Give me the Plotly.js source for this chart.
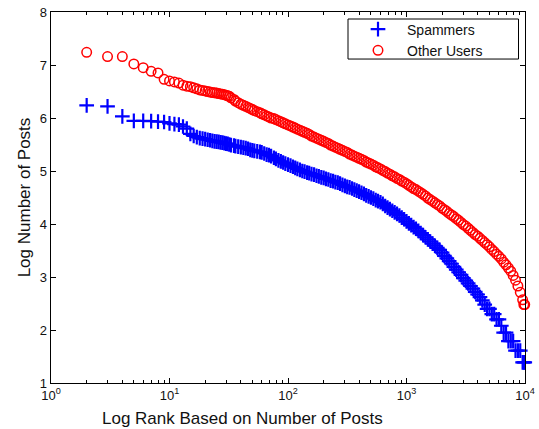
<!DOCTYPE html>
<html>
<head>
<meta charset="utf-8">
<script src="https://cdn.plot.ly/plotly-3.0.1.min.js"></script>
<style>
  html, body { margin: 0; padding: 0; background: #fff; }
  #chart { width: 539px; height: 429px; }
</style>
</head>
<body>
<div id="chart"></div>
<script>
// Rank of each user (by number of posts), shared by both groups
const ranks = [
  2, 3, 4, 5, 6, 7, 8, 9, 10, 11, 12, 13, 14, 15, 16, 17, 18, 19, 20, 21,
  22, 23, 24, 25, 26, 27, 28, 29, 30, 31,
  32, 33, 35, 36, 38, 40, 42, 44, 46, 48, 50, 52, 55, 58, 60, 63, 66, 69, 72, 76,
  79, 83, 87, 91, 95,
  100, 105, 110, 115, 120, 126, 132, 138, 145, 151,
  158, 166, 174, 182, 191, 200, 209, 219, 229, 240,
  251, 263, 275, 288, 302, 316, 331, 347, 363, 380,
  398, 417, 437, 457, 479, 501, 525, 550, 575, 603,
  631, 661, 692, 724, 759, 794, 832, 871, 912, 955,
  1000, 1047, 1096, 1148, 1202, 1259, 1318, 1380, 1445, 1514,
  1585, 1660, 1738, 1820, 1905, 1995, 2089, 2188, 2291, 2399,
  2512, 2630, 2754, 2884, 3020, 3162, 3311, 3467, 3631, 3802,
  3981, 4169, 4365, 4571, 4786, 5012, 5248, 5495, 5754, 6026,
  6310, 6607, 6918, 7244, 7586, 7943, 8318, 8710, 9120, 9550,
  9772, 9950
];

// Log number of posts, spammers
const spammers = [
  6.24, 6.22, 6.03, 5.945, 5.945, 5.94, 5.93, 5.925, 5.90,
  5.885, 5.875, 5.84, 5.80, 5.70, 5.66, 5.64, 5.62, 5.61, 5.60,
  5.59, 5.58, 5.57, 5.56, 5.555, 5.55, 5.54, 5.535, 5.525, 5.515, 5.51,
  5.50, 5.49, 5.48, 5.47, 5.46, 5.45, 5.44, 5.43, 5.42, 5.40,
  5.39, 5.38, 5.37, 5.36, 5.35, 5.33, 5.31, 5.30, 5.28, 5.25,
  5.23, 5.20, 5.18, 5.16, 5.14,
  5.12, 5.10, 5.08, 5.06, 5.04, 5.02, 5.00, 4.99, 4.97, 4.96,
  4.94, 4.93, 4.91, 4.90, 4.88, 4.87, 4.85, 4.84, 4.82, 4.81,
  4.79, 4.78, 4.76, 4.74, 4.72, 4.70, 4.69, 4.67, 4.65, 4.63,
  4.61, 4.59, 4.57, 4.54, 4.52, 4.50, 4.48, 4.45, 4.43, 4.41,
  4.38, 4.34, 4.31, 4.28, 4.25, 4.22, 4.19, 4.16, 4.12, 4.09,
  4.05, 4.01, 3.98, 3.94, 3.91, 3.87, 3.83, 3.79, 3.75, 3.71,
  3.67, 3.63, 3.59, 3.55, 3.51, 3.46, 3.40, 3.35, 3.30, 3.25,
  3.19, 3.14, 3.09, 3.04, 2.98, 2.93, 2.88, 2.83, 2.78, 2.72,
  2.67, 2.62, 2.56, 2.48, 2.40, 2.40, 2.30, 2.30, 2.20, 2.20,
  2.08, 1.95, 1.95, 1.79, 1.79, 1.79, 1.61, 1.61, 1.61, 1.39,
  1.39, 1.39
];

// Log number of posts, other users
const otherUsers = [
  7.24, 7.16, 7.16, 7.02, 6.95, 6.88, 6.85, 6.73, 6.70,
  6.68, 6.66, 6.62, 6.60, 6.59, 6.57, 6.55, 6.53, 6.52, 6.51,
  6.50, 6.49, 6.48, 6.475, 6.47, 6.46, 6.455, 6.45, 6.44, 6.43, 6.42,
  6.41, 6.38, 6.35, 6.32, 6.29, 6.26, 6.24, 6.22, 6.20, 6.18,
  6.16, 6.14, 6.12, 6.10, 6.08, 6.06, 6.04, 6.02, 6.00, 5.99,
  5.97, 5.95, 5.93, 5.91, 5.89,
  5.87, 5.85, 5.83, 5.81, 5.79, 5.77, 5.75, 5.73, 5.71, 5.69,
  5.66, 5.64, 5.62, 5.60, 5.58, 5.56, 5.54, 5.52, 5.49, 5.47,
  5.45, 5.43, 5.41, 5.39, 5.37, 5.35, 5.32, 5.30, 5.28, 5.26,
  5.24, 5.22, 5.20, 5.17, 5.15, 5.13, 5.11, 5.08, 5.06, 5.04,
  5.01, 4.99, 4.96, 4.94, 4.91, 4.89, 4.86, 4.84, 4.81, 4.79,
  4.76, 4.73, 4.70, 4.67, 4.65, 4.62, 4.59, 4.56, 4.53, 4.49,
  4.46, 4.43, 4.40, 4.37, 4.34, 4.30, 4.27, 4.24, 4.20, 4.17,
  4.14, 4.10, 4.07, 4.03, 3.99, 3.96, 3.92, 3.88, 3.84, 3.80,
  3.77, 3.73, 3.69, 3.65, 3.61, 3.57, 3.52, 3.48, 3.43, 3.39,
  3.34, 3.28, 3.23, 3.17, 3.11, 3.03, 2.94, 2.83, 2.71, 2.57,
  2.48, 2.48
];

// Axis ticks
const xMajorTicks = [1, 10, 100, 1000, 10000];
const xMajorLabels = ['10<sup>0</sup>', '10<sup>1</sup>', '10<sup>2</sup>', '10<sup>3</sup>', '10<sup>4</sup>'];
const xMinorTicks = [
  2, 3, 4, 5, 6, 7, 8, 9,
  20, 30, 40, 50, 60, 70, 80, 90,
  200, 300, 400, 500, 600, 700, 800, 900,
  2000, 3000, 4000, 5000, 6000, 7000, 8000, 9000
];
const yTicks = [1, 2, 3, 4, 5, 6, 7, 8];

const FONT = 'Liberation Sans, Arial, Helvetica, sans-serif';
const INK = '#111';

const traces = [
  {
    x: ranks, y: spammers, name: 'Spammers',
    type: 'scatter', mode: 'markers', cliponaxis: false,
    marker: { symbol: 'cross-thin-open', size: 10.5, color: '#0000ff',
              line: { color: '#0000ff', width: 2.2 } }
  },
  {
    x: ranks, y: otherUsers, name: 'Other Users',
    type: 'scatter', mode: 'markers', cliponaxis: false,
    marker: { symbol: 'circle-open', size: 9.5, color: '#ff0000',
              line: { color: '#ff0000', width: 1.5 } }
  }
];

const axisCommon = {
  showline: true, linecolor: '#000', linewidth: 1.3, mirror: 'ticks',
  ticks: 'inside', ticklen: 5, tickwidth: 1, tickcolor: '#000',
  showgrid: false, zeroline: false,
  tickfont: { family: FONT, size: 13, color: INK }
};

const layout = {
  width: 539, height: 429,
  margin: { l: 51, r: 14, t: 12, b: 46 },
  paper_bgcolor: '#fff', plot_bgcolor: '#fff',
  font: { family: FONT, color: INK },
  showlegend: true,
  xaxis: Object.assign({}, axisCommon, {
    type: 'log', range: [0, 4],
    tickmode: 'array', tickvals: xMajorTicks, ticktext: xMajorLabels,
    minor: { tickmode: 'array', tickvals: xMinorTicks, ticks: 'inside',
             ticklen: 3, tickwidth: 1, tickcolor: '#000' }
  }),
  yaxis: Object.assign({}, axisCommon, {
    range: [1, 8], tickmode: 'array', tickvals: yTicks,
    title: { text: 'Log Number of Posts',
             font: { family: FONT, size: 17, color: INK }, standoff: 5 }
  }),
  annotations: [
    { text: 'Log Rank Based on Number of Posts',
      xref: 'paper', yref: 'paper', x: 0.403, y: -0.0952,
      xanchor: 'center', yanchor: 'middle', showarrow: false,
      font: { family: FONT, size: 17, color: INK } }
  ],
  legend: {
    x: 0.6287, y: 0.996, xanchor: 'left', yanchor: 'top',
    bgcolor: 'rgba(0,0,0,0)', borderwidth: 0,
    itemwidth: 48,
    font: { family: FONT, size: 14, color: INK },
    tracegroupgap: 0
  },
  shapes: [
    { type: 'rect', xref: 'paper', yref: 'paper',
      x0: 0.6266, x1: 0.9863, y0: 0.8732, y1: 0.9811,
      line: { color: '#000', width: 1 }, fillcolor: '#fff', layer: 'above' }
  ]
};

Plotly.newPlot('chart', traces, layout, { staticPlot: true, displayModeBar: false });
</script>
</body>
</html>
